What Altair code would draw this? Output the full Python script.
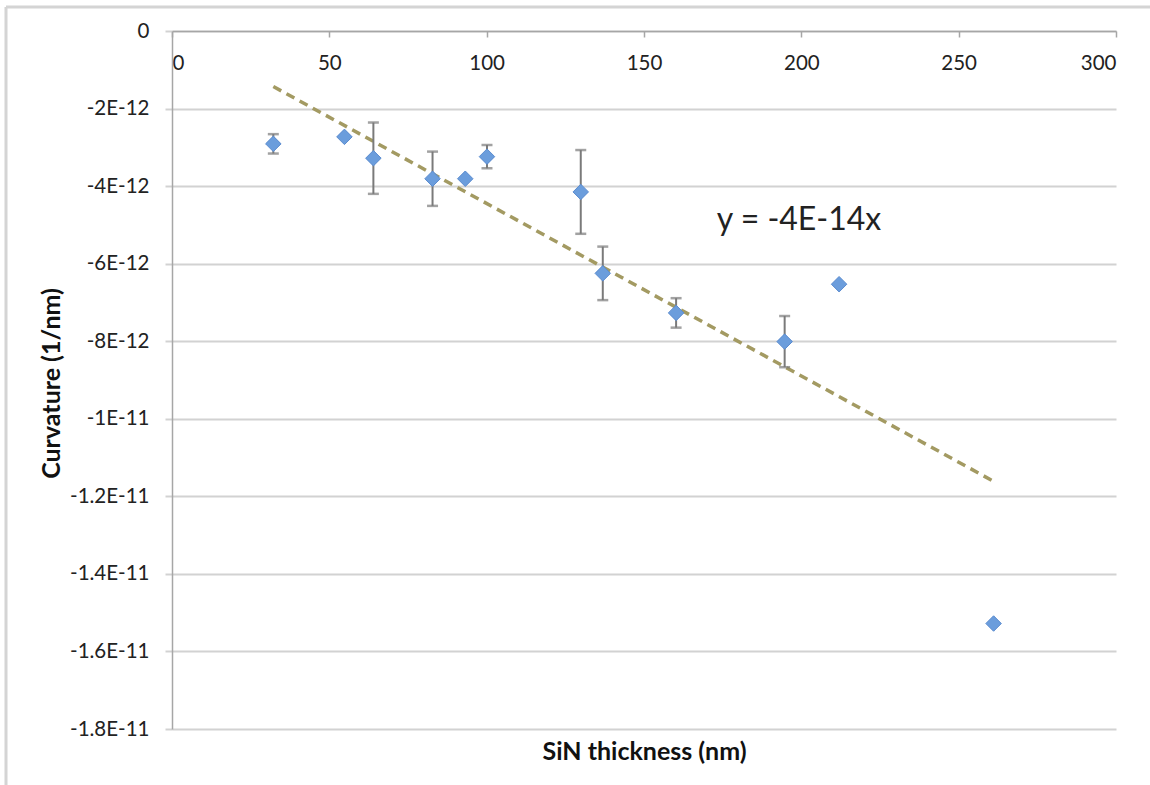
import altair as alt
import numpy as np
import pandas as pd

# SiN film thickness (nm) and measured curvature (1/nm)
thickness = [32.2, 54.8, 64.0, 82.8, 93.2, 100.1, 129.9, 136.9, 160.2, 194.7, 212.0, 261.1]
curvature = [-2.91e-12, -2.73e-12, -3.28e-12, -3.81e-12, -3.81e-12, -3.24e-12,
             -4.15e-12, -6.25e-12, -7.27e-12, -8.01e-12, -6.53e-12, -15.28e-12]
# half-height of each error bar (0 = no bar)
curv_err = [0.25e-12, 0.0, 0.92e-12, 0.70e-12, 0.0, 0.30e-12,
            1.08e-12, 0.69e-12, 0.38e-12, 0.66e-12, 0.0, 0.0]

x_ticks = [0, 50, 100, 150, 200, 250, 300]
y_ticks = [0, -2e-12, -4e-12, -6e-12, -8e-12, -1e-11, -1.2e-11, -1.4e-11, -1.6e-11, -1.8e-11]

pts = pd.DataFrame({"x": thickness, "y": curvature, "e": curv_err})
bars = pts[pts["e"] > 0].copy()
bars["lo"] = bars["y"] - bars["e"]
bars["hi"] = bars["y"] + bars["e"]

# linear trendline forced through the origin
xs = np.array(thickness)
ys = np.array(curvature)
slope = float((xs * ys).sum() / (xs * xs).sum())
trend = pd.DataFrame({"x": [xs.min(), xs.max()], "y": [slope * xs.min(), slope * xs.max()]})
eq_label = pd.DataFrame({"t": [f"y = {slope:.0E}x"]})

W, H = 944, 698
PAD_L, PAD_T = 172, 31
FONT = "Lato"
GRID = "#d2d2d2"
AXIS = "#a6a6a6"

x_scale = alt.Scale(domain=[0, 300], nice=False, zero=False)
y_scale = alt.Scale(domain=[-1.8e-11, 0], nice=False, zero=False)

x_axis = alt.Axis(
    orient="bottom", offset=-H, values=x_ticks, format="d", grid=False,
    domainColor=AXIS, domainWidth=1.5, tickColor=AXIS, tickSize=6, tickWidth=1.5,
    labelFont=FONT, labelFontSize=20.5, labelColor="#222222", labelPadding=16,
    title="SiN thickness (nm)", titleFont=FONT, titleFontSize=25, titleFontWeight="bold",
    titleColor="#111111", titleY=H + 22, titleBaseline="middle",
)
y_axis = alt.Axis(
    values=y_ticks, grid=True, gridColor=GRID, gridWidth=2,
    domainColor=AXIS, domainWidth=1.5, tickColor=GRID, tickSize=7, tickWidth=2,
    labelFont=FONT, labelFontSize=20.5, labelColor="#222222", labelPadding=16,
    labelExpr="datum.value == 0 ? '0' : '-' + upper(format(-datum.value, '.2~e'))",
    title="Curvature (1/nm)", titleFont=FONT, titleFontSize=25, titleFontWeight="bold",
    titleColor="#111111", titleAngle=-90, titleX=-121, titleY=H / 2 + 3,
    titleAlign="center", titleBaseline="middle",
)

X = alt.X("x:Q", scale=x_scale, axis=x_axis)
Y = alt.Y("y:Q", scale=y_scale, axis=y_axis)

err_lines = alt.Chart(bars).mark_rule(color="#7a7a7a", strokeWidth=2).encode(
    x=alt.X("x:Q", scale=x_scale, axis=x_axis),
    y=alt.Y("lo:Q", scale=y_scale, axis=y_axis),
    y2="hi:Q",
)
err_caps_lo = alt.Chart(bars).mark_tick(color="#7a7a7a", orient="horizontal", size=11, thickness=2.5).encode(
    x=alt.X("x:Q", scale=x_scale, axis=x_axis),
    y=alt.Y("lo:Q", scale=y_scale, axis=y_axis),
)
err_caps_hi = alt.Chart(bars).mark_tick(color="#7a7a7a", orient="horizontal", size=11, thickness=2.5).encode(
    x=alt.X("x:Q", scale=x_scale, axis=x_axis),
    y=alt.Y("hi:Q", scale=y_scale, axis=y_axis),
)

trend_line = alt.Chart(trend).mark_line(
    color="#a39a62", strokeWidth=3.5, strokeDash=[9, 6]
).encode(x=X, y=Y)

points = alt.Chart(pts).mark_point(
    shape="diamond", size=240, filled=True, fill="#6b9ddc", stroke="#5a8bcf",
    strokeWidth=1, opacity=1,
).encode(x=X, y=Y)

eq_text = alt.Chart(eq_label).mark_text(
    font=FONT, fontSize=32, color="#222222", align="center", baseline="middle"
).encode(x=alt.value(627), y=alt.value(189), text="t:N")

# outer chart frame
frame_left = alt.Chart(eq_label).mark_rule(color="#d4d4d4", strokeWidth=3).encode(
    x=alt.value(6 - PAD_L), y=alt.value(7 - PAD_T), y2=alt.value(785 - PAD_T)
)
frame_top = alt.Chart(eq_label).mark_rule(color="#d4d4d4", strokeWidth=3).encode(
    x=alt.value(6 - PAD_L), x2=alt.value(1150 - PAD_L), y=alt.value(7 - PAD_T)
)

chart = alt.layer(
    trend_line, err_lines, err_caps_lo, err_caps_hi, points, eq_text, frame_left, frame_top
).properties(
    width=W, height=H,
    autosize=alt.AutoSizeParams(type="none"),
    padding={"left": PAD_L, "top": PAD_T, "right": 1150 - PAD_L - W, "bottom": 785 - PAD_T - H},
    background="white",
).configure_view(strokeWidth=0)

chart.save("out.html", embed_options={"renderer": "svg", "actions": False})
